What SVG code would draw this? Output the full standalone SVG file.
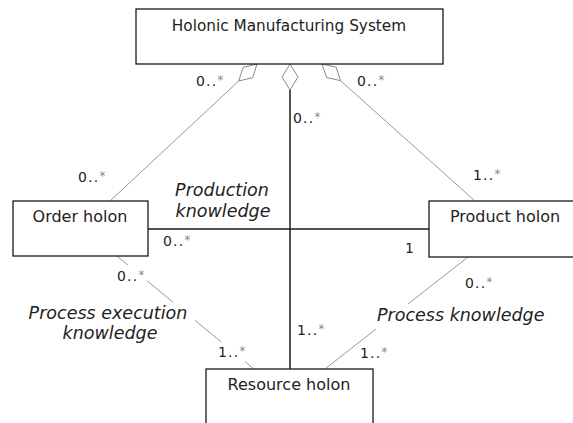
<svg xmlns="http://www.w3.org/2000/svg" width="573" height="423" viewBox="0 0 573 423">
<style>
.box{fill:#fff;stroke:#1a1a1a;stroke-width:1.3}
.nt{font-family:"DejaVu Sans",sans-serif;font-size:16px;fill:#222;text-anchor:middle}
.agg{fill:none;stroke:#999;stroke-width:1}
.dia{fill:#fff;stroke:#888;stroke-width:1}
.strong{fill:none;stroke:#1a1a1a;stroke-width:1.5}
.m{font-family:"DejaVu Sans",sans-serif;font-size:14px;fill:#222;letter-spacing:1.2px}
.st{font-size:11.5px;fill:#888}
.lbl{font-family:"DejaVu Sans",sans-serif;font-size:17.5px;font-style:italic;fill:#222}
.bg{fill:#fff}
</style>
<g id="connectors">
  <line class="agg" x1="238.7" y1="81" x2="110" y2="201"/>
  <polygon class="dia" points="257,64 252.7,77.6 238.7,81 243.1,67.4"/>
  <line class="agg" x1="340.6" y1="80.7" x2="475" y2="201"/>
  <polygon class="dia" points="322,64 336,67.1 340.6,80.7 326.6,77.5"/>
  <line class="strong" x1="290" y1="90" x2="290" y2="369"/>
  <polygon class="dia" points="290,64 298,77 290,90 282,77"/>
  <line class="strong" x1="148" y1="229" x2="429" y2="229"/>
  <line class="agg" x1="117" y1="256" x2="254" y2="369"/>
  <line class="agg" x1="468" y1="257" x2="325" y2="369"/>
  <rect class="bg" x="113" y="265" width="34" height="20"/>
  <rect class="bg" x="25" y="302" width="170" height="42"/>
  <rect class="bg" x="214" y="342" width="31" height="20"/>
  <rect class="bg" x="376" y="304" width="174" height="27"/>
  <text class="m" x="196" y="86">0..<tspan class="st" dy="-2">*</tspan></text>
  <text class="m" x="357" y="86">0..<tspan class="st" dy="-2">*</tspan></text>
  <text class="m" x="293" y="123">0..<tspan class="st" dy="-2">*</tspan></text>
  <text class="m" x="78" y="182">0..<tspan class="st" dy="-2">*</tspan></text>
  <text class="m" x="473" y="180">1..<tspan class="st" dy="-2">*</tspan></text>
  <text class="m" x="163" y="246">0..<tspan class="st" dy="-2">*</tspan></text>
  <text class="m" x="405" y="253">1</text>
  <text class="m" x="117" y="281">0..<tspan class="st" dy="-2">*</tspan></text>
  <text class="m" x="465" y="288">0..<tspan class="st" dy="-2">*</tspan></text>
  <text class="m" x="297" y="335">1..<tspan class="st" dy="-2">*</tspan></text>
  <text class="m" x="218" y="357">1..<tspan class="st" dy="-2">*</tspan></text>
  <text class="m" x="360" y="358">1..<tspan class="st" dy="-2">*</tspan></text>
  <text class="lbl" x="222" y="196" text-anchor="middle">Production</text>
  <text class="lbl" x="223" y="217" text-anchor="middle">knowledge</text>
  <text class="lbl" x="108" y="319" text-anchor="middle">Process execution</text>
  <text class="lbl" x="110" y="339" text-anchor="middle">knowledge</text>
  <text class="lbl" x="377" y="321">Process knowledge</text>
</g>
<g id="hms">
  <rect class="box" x="136" y="9" width="307" height="55"/>
  <text class="nt" x="289" y="31" style="font-size:15.3px">Holonic Manufacturing System</text>
</g>
<g id="order">
  <rect class="box" x="13" y="201" width="135" height="55"/>
  <text class="nt" x="80" y="222">Order holon</text>
</g>
<g id="product">
  <rect class="box" x="429" y="201" width="152" height="56"/>
  <text class="nt" x="505" y="222">Product holon</text>
</g>
<g id="resource">
  <rect class="box" x="206" y="369" width="167" height="80"/>
  <text class="nt" x="289" y="390">Resource holon</text>
</g>
</svg>
